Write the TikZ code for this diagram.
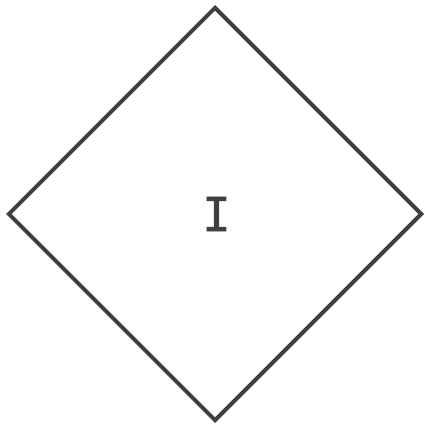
\documentclass[tikz,border=0pt]{standalone}
\usepackage{fontspec}
\newfontfamily\gatefont[FakeBold=1.5]{DejaVu Sans Mono}
\usetikzlibrary{shapes.geometric, positioning}
\definecolor{dark}{RGB}{64, 64, 64}
\tikzset{
    decision/.style={diamond, draw=dark, line width=4pt, text=dark, inner sep=0pt, minimum width=414pt, minimum height=414pt, font=\gatefont\fontsize{47}{47}\selectfont}
}
\begin{document}
\begin{tikzpicture}[x=1pt, y=1pt]
        \useasboundingbox (0,0) rectangle (424,-427);
        \node[decision] (gate) at (215,-214) {\hspace{3pt}I};
    \end{tikzpicture}
\end{document}
